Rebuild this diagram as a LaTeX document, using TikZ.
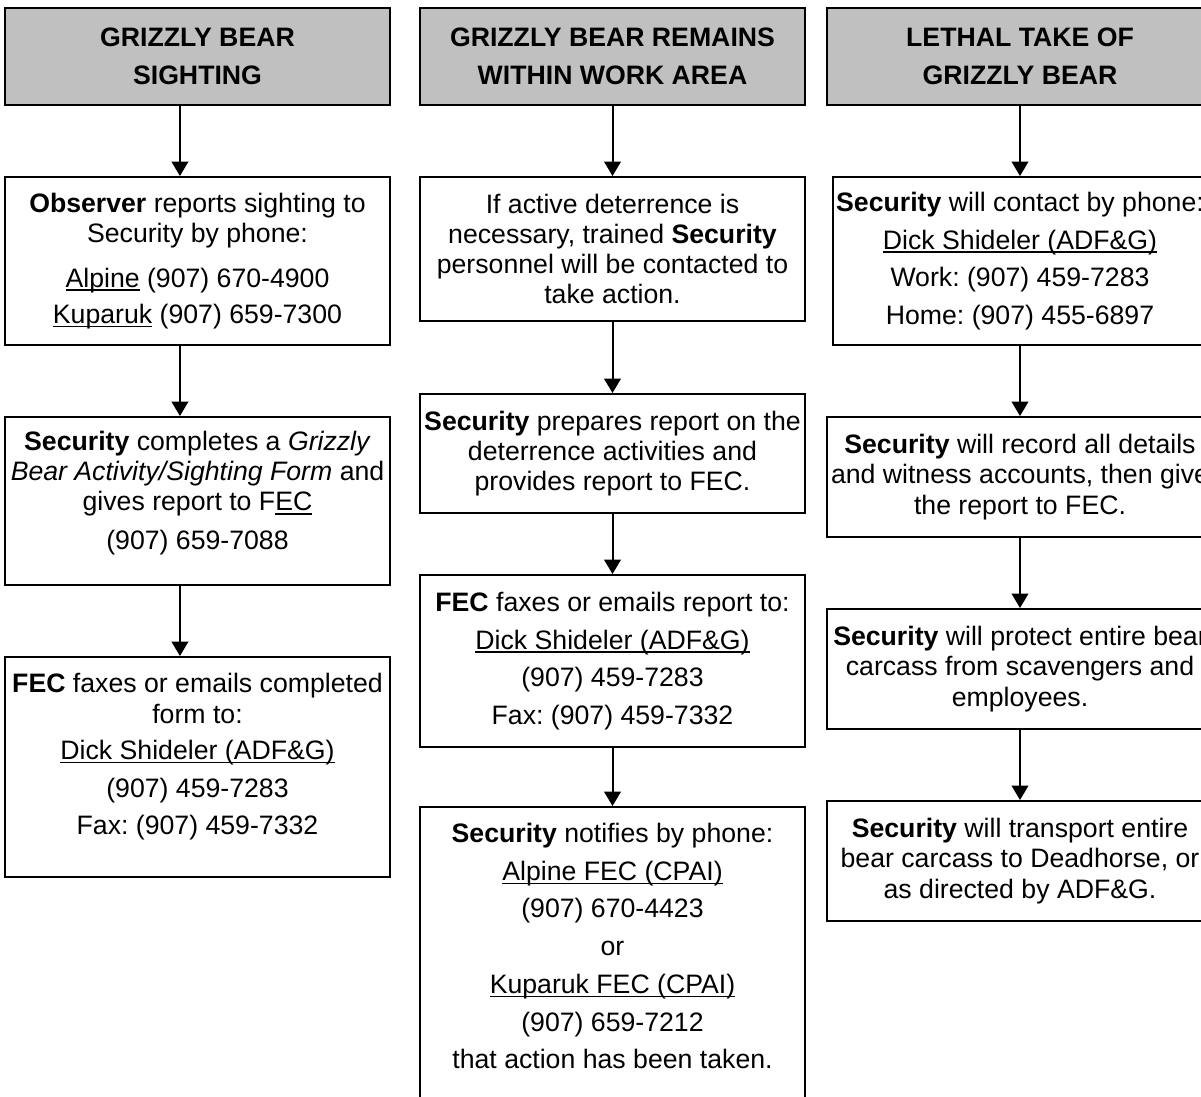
\documentclass[tikz,border=0pt]{standalone}
\usepackage{fontspec}
\setmainfont{Liberation Sans}
\usetikzlibrary{arrows.meta}

\definecolor{hdrgray}{RGB}{192,192,192}
\newcommand{\undl}[1]{\setbox0=\hbox{#1}\rlap{\rule[-1.7pt]{\wd0}{0.6pt}}\box0\relax}
\newcommand{\lowpad}[1]{\rule[-#1]{0pt}{#1}}
\frenchspacing

\begin{document}
\begin{tikzpicture}[x=0.45pt, y=-0.45pt, line width=0.9pt,
    hdr/.style={draw, fill=hdrgray, align=center, inner sep=0pt,
        minimum width=173.25pt, minimum height=43.65pt,
        font=\bfseries\fontsize{12}{17}\selectfont},
    card/.style={draw, fill=white, align=center, inner sep=0pt,
        minimum width=173.25pt, font=\fontsize{12}{13.6}\selectfont},
    flow/.style={-{Triangle[width=7.5pt,length=6.5pt]}}]
    \useasboundingbox (0,0) rectangle (1201,1097);

    % Sighting
    \node[hdr] (s0) at (197.5,56.5) {GRIZZLY BEAR\\SIGHTING};
    \node[card, minimum height=75.6pt] (s1) at (197.5,261)
        {\textbf{Observer} reports sighting to\\Security by phone:\\[6.3pt]
         \undl{Alpine} (907) 670-4900\\[2.7pt]\undl{Kuparuk} (907) 659-7300};
    \node[card, minimum height=75.6pt] (s2) at (197.5,501)
        {\textbf{Security} completes a \textit{Grizzly}\\
         \textit{Bear Activity/Sighting Form} and\\gives report to F\undl{EC}\\[3.6pt]
         (907) 659-7088\lowpad{9.7pt}};
    \node[card, minimum height=99pt] (s3) at (197.5,767)
        {\textbf{FEC} faxes or emails completed\\form to:\\[2.7pt]
         \undl{Dick Shideler (ADF\&G)}\\[3.4pt](907) 459-7283\\[3.4pt]
         Fax: (907) 459-7332\lowpad{11.5pt}};

    \draw[flow] ([xshift=-7.9pt]s0.south) -- ([xshift=-7.9pt]s1.north);
    \draw[flow] ([xshift=-7.9pt]s1.south) -- ([xshift=-7.9pt]s2.north);
    \draw[flow] ([xshift=-7.9pt]s2.south) -- ([xshift=-7.9pt]s3.north);

    % Bear remains in work area
    \node[hdr] (r0) at (612.5,56.5) {GRIZZLY BEAR REMAINS\\WITHIN WORK AREA};
    \node[card, minimum height=64.8pt] (r1) at (612.5,249)
        {If active deterrence is\\necessary, trained \textbf{Security}\\
         personnel will be contacted to\\take action.};
    \node[card, minimum height=53.55pt] (r2) at (612.5,453.5)
        {\textbf{Security} prepares report on the\\deterrence activities and\\
         provides report to FEC.};
    \node[card, minimum height=77.4pt] (r3) at (612.5,661)
        {\textbf{FEC} faxes or emails report to:\\[3.4pt]
         \undl{Dick Shideler (ADF\&G)}\\[3.4pt](907) 459-7283\\[3.4pt]
         Fax: (907) 459-7332};
    \node[card, minimum height=131.85pt] (r4) at (612.5,953.5)
        {\textbf{Security} notifies by phone:\\[3.4pt]
         \undl{Alpine FEC (CPAI)}\\[3.4pt](907) 670-4423\\[3.4pt]or\\[3.4pt]
         \undl{Kuparuk FEC (CPAI)}\\[3.4pt](907) 659-7212\\[3.4pt]
         that action has been taken.\lowpad{6.75pt}};

    \draw[flow] (r0) -- (r1);
    \draw[flow] (r1) -- (r2);
    \draw[flow] (r2) -- (r3);
    \draw[flow] (r3) -- (r4);

    % Lethal take
    \node[hdr, minimum width=173.7pt] (k0) at (1020,56.5) {LETHAL TAKE OF\\GRIZZLY BEAR};
    \node[card, minimum width=168.3pt, minimum height=75.6pt] (k1) at (1020,261)
        {\textbf{Security} will contact by phone:\\[3.4pt]
         \undl{Dick Shideler (ADF\&G)}\\[3.4pt]Work: (907) 459-7283\\[3.4pt]
         Home: (907) 455-6897};
    \node[card, minimum width=173.7pt, minimum height=54pt] (k2) at (1020,477)
        {\textbf{Security} will record all details\\and witness accounts, then give\\
         the report to FEC.};
    \node[card, minimum width=173.7pt, minimum height=54pt] (k3) at (1020,669)
        {\textbf{Security} will protect entire bear\\carcass from scavengers and\\
         employees.};
    \node[card, minimum width=173.7pt, minimum height=54pt] (k4) at (1020,861)
        {\textbf{Security} will transport entire\\bear carcass to Deadhorse, or\\
         as directed by ADF\&G.};

    \draw[flow] (k0) -- (k1);
    \draw[flow] (k1) -- (k2);
    \draw[flow] (k2) -- (k3);
    \draw[flow] (k3) -- (k4);
\end{tikzpicture}
\end{document}
